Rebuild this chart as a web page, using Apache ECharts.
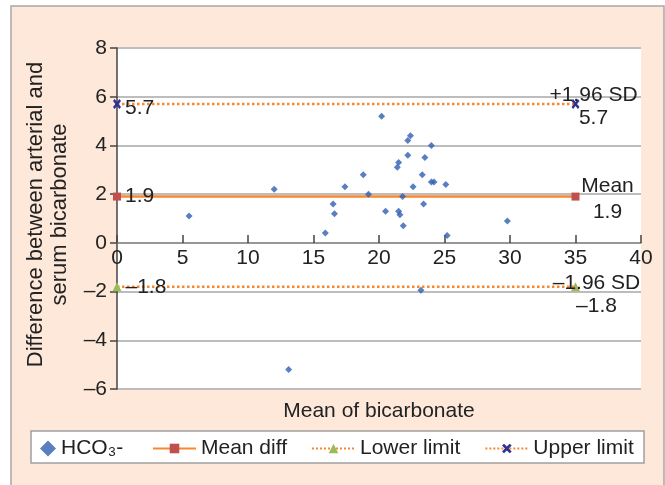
<!DOCTYPE html>
<html>
<head>
<meta charset="utf-8">
<script src="https://cdn.jsdelivr.net/npm/echarts@6/dist/echarts.min.js"></script>
<style>
  html, body { margin: 0; padding: 0; background: #fff; }
  #chart { width: 665px; height: 485px; }
</style>
</head>
<body>
<div id="chart"></div>
<script>
// mean of arterial and serum bicarbonate (x) vs their difference (y)
var meanBicarb = [5.5, 12.0, 13.1, 15.9, 16.5, 16.6, 17.4, 18.8, 19.2, 20.2, 20.5,
    21.4, 21.5, 21.5, 21.6, 21.8, 21.85, 22.2, 22.4, 22.2, 22.6, 23.2, 23.3, 23.4,
    23.5, 24.0, 24.0, 24.2, 25.1, 25.2, 29.8];
var diffBicarb = [1.1, 2.2, -5.2, 0.4, 1.6, 1.2, 2.3, 2.8, 2.0, 5.2, 1.3,
    3.1, 3.3, 1.3, 1.15, 1.9, 0.7, 4.2, 4.4, 3.6, 2.3, -1.95, 2.8, 1.6,
    3.5, 4.0, 2.5, 2.5, 2.4, 0.3, 0.9];

var lineEnds = [0, 35];
var meanDiff = 1.9;
var lowerLimit = -1.8;
var upperLimit = 5.7;

var seriesNames = ['HCO\u2083-', 'Mean diff', 'Lower limit', 'Upper limit'];
var xTicks = [0, 40, 5];
var yTicks = [-6, 8, 2];

var font = "'Liberation Sans', Arial, sans-serif";
var minus = function (v) { return String(v).replace('-', '\u2013'); };

var scatterData = meanBicarb.map(function (x, i) { return [x, diffBicarb[i]]; });

// builds the two end points of a reference line with its labels
function refLine(value, rightTitle, leftOffset, rightOffset, lineH) {
    return [
        {
            value: [lineEnds[0], value],
            label: { show: true, position: 'right', distance: 4, offset: leftOffset, formatter: minus(value) }
        },
        {
            value: [lineEnds[1], value],
            label: {
                show: true, position: 'inside', offset: rightOffset, align: 'center',
                verticalAlign: 'middle', lineHeight: lineH,
                formatter: rightTitle + '\n' + minus(value)
            }
        }
    ];
}

var xShape = 'path://M0,2L2,0L5,3L8,0L10,2L7,5L10,8L8,10L5,7L2,10L0,8L3,5Z';

var chart = echarts.init(document.getElementById('chart'));
var option = {
    backgroundColor: '#fff',
    animation: false,
    textStyle: { fontFamily: font },
    graphic: [
        {
            type: 'rect', z: -10,
            shape: { x: 11, y: 6, width: 653, height: 495 },
            style: { fill: '#fde8da', stroke: '#a6a6a6', lineWidth: 1.5 }
        },
        {
            type: 'rect', z: 3,
            shape: { x: 31, y: 431, width: 613, height: 32 },
            style: { fill: '#fff', stroke: '#a0a0a0', lineWidth: 1.5 }
        }
    ],
    grid: {
        left: 117, right: 24, top: 48, bottom: 96,
        outerBoundsMode: 'none', containLabel: false,
        show: true, backgroundColor: '#fff', borderWidth: 0
    },
    legend: [
        {
            data: [seriesNames[0]],
            left: 35, top: 433,
            itemWidth: 16, itemHeight: 16,
            textStyle: { fontSize: 21, color: '#222', fontFamily: font }
        },
        {
            data: seriesNames.slice(1),
            left: 147, top: 433,
            itemWidth: 43, itemHeight: 12, itemGap: 24,
            textStyle: { fontSize: 21, color: '#222', fontFamily: font }
        }
    ],
    xAxis: {
        type: 'value',
        min: xTicks[0], max: xTicks[1], interval: xTicks[2],
        // x axis drawn through y = 0, lifted from the grid bottom
        offset: -146,
        name: 'Mean of bicarbonate',
        nameLocation: 'middle', nameGap: 158, nameMoveOverlap: false,
        nameTextStyle: { fontSize: 21, color: '#222' },
        axisLine: { onZero: false, lineStyle: { color: '#8a8a8a', width: 1.5 } },
        axisTick: { inside: true, length: 8, lineStyle: { color: '#444', width: 1.5 } },
        axisLabel: { fontSize: 21, color: '#222', margin: 5 },
        splitLine: { show: false }
    },
    yAxis: {
        type: 'value',
        min: yTicks[0], max: yTicks[1], interval: yTicks[2],
        name: 'Difference between arterial and\nserum bicarbonate',
        nameLocation: 'middle', nameGap: 45,
        nameTextStyle: { fontSize: 22, color: '#222', lineHeight: 24, padding: [0, 0, 0, 8] },
        axisLine: { show: true, onZero: false, lineStyle: { color: '#444', width: 1.5 } },
        axisTick: { show: true, length: 7, lineStyle: { color: '#444', width: 1.5 } },
        axisLabel: { fontSize: 21, color: '#222', margin: 10, formatter: minus },
        splitLine: { lineStyle: { color: '#bdbdbd', width: 2 } }
    },
    series: [
        {
            name: seriesNames[0],
            type: 'scatter',
            symbol: 'diamond',
            symbolSize: 7,
            itemStyle: { color: '#2f5fb3' },
            data: scatterData,
            z: 5
        },
        {
            name: seriesNames[1],
            type: 'line',
            symbol: 'rect', symbolSize: 8,
            itemStyle: { color: '#c0504d' },
            lineStyle: { color: '#f7882f', width: 2.5 },
            label: { fontSize: 21, color: '#222', fontFamily: font },
            data: refLine(meanDiff, 'Mean', [0, 0], [32, 3], 26)
        },
        {
            name: seriesNames[2],
            type: 'line',
            symbol: 'triangle', symbolSize: 9,
            itemStyle: { color: '#9bbb59' },
            lineStyle: { color: '#f7882f', width: 2.5, type: 'dotted' },
            label: { fontSize: 21, color: '#222', fontFamily: font },
            data: refLine(lowerLimit, '\u20131.96 SD', [0, 1], [21, 8], 23)
        },
        {
            name: seriesNames[3],
            type: 'line',
            symbol: xShape, symbolSize: [8, 10],
            itemStyle: { color: '#2e3192' },
            lineStyle: { color: '#f7882f', width: 2.5, type: 'dotted' },
            label: { fontSize: 21, color: '#222', fontFamily: font },
            data: refLine(upperLimit, '+1.96 SD', [0, 4], [18, 3], 23)
        }
    ]
};
chart.setOption(option);
</script>
</body>
</html>
